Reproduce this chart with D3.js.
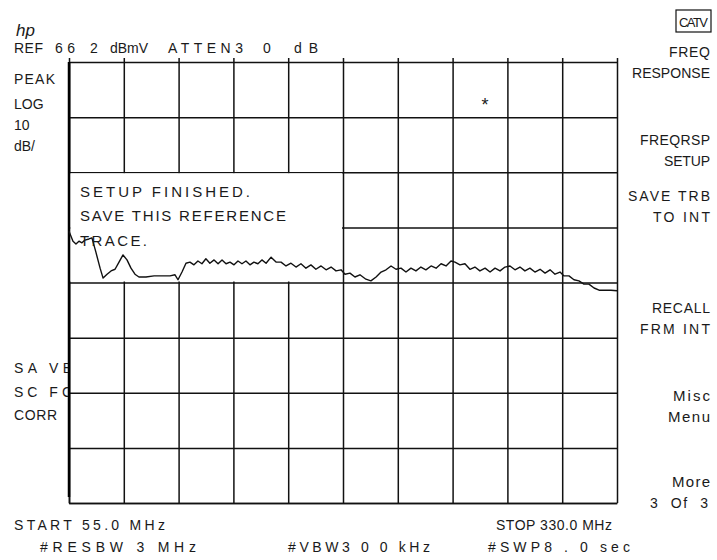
<!DOCTYPE html>
<html>
<head>
<meta charset="utf-8">
<script src="https://cdn.jsdelivr.net/npm/d3@7"></script>
<style>
  body { margin: 0; background: #fff; }
  text { font-family: "Liberation Sans", Arial, sans-serif; fill: #1a1a1a; }
</style>
</head>
<body>
<div id="container"></div>
<script>
var width = 717;
var height = 560;
var plotLeft = 69, plotRight = 617, plotTop = 62, plotBottom = 503;

// instrument settings
var startFreq = 55.0;   // MHz
var stopFreq = 330.0;   // MHz
var refLevel = 66.2;    // dBmV
var dbPerDiv = 10;
var xDivs = 10, yDivs = 8;

// trace (MHz, dBmV)
var traceFreq = [55.0, 56.0, 57.0, 58.5, 60.0, 61.5, 63.0, 65.0, 66.5, 68.5,
    70.6, 72.1, 74.1, 76.1, 78.1, 80.1, 82.1, 84.1, 86.1, 88.1,
    90.1, 93.6, 97.7, 101.7, 105.7, 108.2, 109.7, 111.7, 113.7, 115.7,
    117.7, 119.7, 121.7, 123.7, 125.7, 127.8, 129.8, 131.8, 133.8, 135.8,
    137.8, 139.8, 141.8, 143.8, 145.8, 147.8, 149.8, 151.8, 153.9, 156.4,
    158.9, 161.4, 163.9, 166.4, 168.9, 171.4, 173.9, 176.4, 178.9, 181.5,
    184.0, 186.5, 189.0, 191.5, 193.5, 196.0, 198.5, 201.0, 204.0, 206.5,
    209.1, 211.6, 214.1, 216.6, 219.1, 221.6, 224.1, 226.6, 229.1, 231.6,
    234.1, 236.7, 239.2, 241.7, 244.2, 246.7, 248.7, 251.2, 253.7, 256.2,
    258.7, 261.2, 263.8, 266.3, 268.8, 271.3, 273.8, 276.3, 278.8, 281.3,
    283.8, 286.3, 288.8, 291.4, 293.9, 296.4, 298.9, 301.4, 303.4, 305.9,
    308.4, 310.9, 313.4, 315.9, 318.5, 321.0, 324.0, 327.0, 330.0];
var traceLevel = [35.5, 34.6, 33.7, 33.2, 33.7, 33.4, 33.9, 34.1, 34.3, 31.7,
    28.8, 27.0, 27.7, 28.3, 28.6, 29.9, 31.2, 30.3, 28.8, 27.7,
    27.2, 27.2, 27.4, 27.4, 27.4, 27.6, 26.7, 28.1, 29.7, 29.9,
    29.4, 30.1, 29.6, 30.5, 29.7, 30.3, 29.6, 30.3, 29.6, 29.9,
    29.4, 30.1, 29.6, 30.1, 29.4, 29.9, 29.6, 30.3, 29.7, 30.8,
    29.9, 29.9, 29.2, 29.7, 29.0, 29.6, 28.8, 29.4, 28.6, 29.2,
    28.5, 29.0, 28.3, 28.5, 27.7, 27.9, 27.2, 27.6, 26.8, 26.5,
    27.2, 28.1, 28.5, 29.2, 28.6, 28.8, 28.1, 28.8, 28.3, 29.0,
    28.5, 29.2, 28.8, 29.6, 29.2, 30.1, 29.9, 29.4, 29.6, 28.6,
    29.0, 28.3, 28.8, 28.1, 28.8, 28.3, 29.0, 29.2, 28.5, 29.0,
    28.3, 28.8, 28.1, 28.6, 27.9, 28.5, 27.7, 28.1, 27.4, 27.4,
    26.7, 26.5, 25.9, 25.9, 25.2, 24.8, 24.8, 24.8, 24.7];

var markerFreq = 263.8, markerLevel = 58.8;

var xScale = d3.scaleLinear()
    .domain([startFreq, stopFreq])
    .range([plotLeft, plotRight]);

var yScale = d3.scaleLinear()
    .domain([refLevel - dbPerDiv * yDivs, refLevel])
    .range([plotBottom, plotTop]);

var xGrid = d3.range(xDivs + 1).map(function (i) { return startFreq + i * (stopFreq - startFreq) / xDivs; });
var yGrid = d3.range(yDivs + 1).map(function (i) { return refLevel - i * dbPerDiv; });

var svg = d3.select("#container")
    .append("svg")
    .attr("width", width)
    .attr("height", height);

// graticule
var xAxis = d3.axisBottom(xScale).tickValues(xGrid).tickSize(-(plotBottom - plotTop) - 4).tickSizeOuter(0).tickFormat("");
svg.append("g")
    .attr("transform", "translate(0," + plotBottom + ")")
    .call(xAxis);
var yAxis = d3.axisLeft(yScale).tickValues(yGrid).tickSize(-(plotRight - plotLeft)).tickSizeOuter(0).tickFormat("");
svg.append("g")
    .attr("transform", "translate(" + plotLeft + ",0)")
    .call(yAxis);
svg.selectAll(".domain").attr("stroke", "#111").attr("stroke-width", 1.6);
svg.selectAll(".tick line").attr("stroke", "#111").attr("stroke-width", 1.5);

// thick left edge
svg.append("line")
    .attr("x1", plotLeft).attr("x2", plotLeft)
    .attr("y1", plotTop).attr("y2", plotBottom - 6)
    .attr("stroke", "#000").attr("stroke-width", 2.5);

// message box blanks part of the graticule
svg.append("rect")
    .attr("x", xScale(startFreq) + 1.5)
    .attr("y", yScale(refLevel - 2 * dbPerDiv) + 1)
    .attr("width", xScale(startFreq + 5 * 27.5) - xScale(startFreq) - 2.5)
    .attr("height", yScale(refLevel - 4 * dbPerDiv) - yScale(refLevel - 2 * dbPerDiv) - 2)
    .attr("fill", "#fff");

// trace
var line = d3.line()
    .x(function (d, i) { return xScale(traceFreq[i]); })
    .y(function (d) { return yScale(d); });
svg.append("path")
    .datum(traceLevel)
    .attr("d", line)
    .attr("fill", "none")
    .attr("stroke", "#111")
    .attr("stroke-width", 1.4)
    .attr("stroke-linejoin", "round");

// marker
svg.append("text")
    .attr("x", xScale(markerFreq))
    .attr("y", yScale(markerLevel) + 8)
    .attr("text-anchor", "middle")
    .attr("font-size", "18px")
    .text("*");

// screen annotations: text, x, baseline, width, size
var labels = [
    ["R E F", 14, 53, 29, 14], ["6 6", 55, 53, 20, 14], ["2", 90, 53, null, 14],
    ["dBmV", 110, 53, 38, 14], ["ATTEN3", 168, 53, 75, 14], ["0", 263, 53, null, 14],
    ["dB", 294, 53, 24, 14],
    ["PEAK", 14, 84, 41, 14], ["LOG", 14, 109, null, 14], ["10", 14, 130, null, 14], ["dB/", 14, 151, null, 14],
    ["SA VB", 14, 373, 58, 14], ["SC FC", 14, 397, 58, 14], ["CORR", 14, 420, 43, 14],
    ["FREQ", 669, 57, 41, 14], ["RESPONSE", 632, 78, 78, 14],
    ["FREQRSP", 640, 145, 70, 14], ["SETUP", 664, 166, 46, 14],
    ["SAVE TRB", 628, 201, 82, 14], ["TO INT", 653, 222, 57, 14],
    ["RECALL", 652, 313, 58, 14], ["FRM INT", 640, 334, 70, 14],
    ["Misc", 673, 401, 37, 15], ["Menu", 668, 422, 42, 15],
    ["More", 672, 487, 38, 15], ["3  Of  3", 650, 508, 58, 14],
    ["START 55.0 MHz", 14, 530, 151, 14], ["STOP 330.0 MHz", 496, 530, 116, 14],
    ["#RESBW 3 MHz", 40, 552, 156, 14], ["#VBW3 0 0 kHz", 288, 552, 142, 14],
    ["#SWP8 . 0 sec", 488, 552, 142, 14],
    ["SETUP FINISHED.", 80, 197, 170, 15], ["SAVE THIS REFERENCE", 80, 221, 206, 15],
    ["TRACE.", 80, 246, 67, 15]
];

svg.append("clipPath").attr("id", "leftclip")
    .append("rect").attr("x", 0).attr("y", 0).attr("width", plotLeft - 1).attr("height", height);

labels.forEach(function (l) {
    var t = svg.append("text")
        .attr("x", l[1])
        .attr("y", l[2])
        .attr("font-size", l[4] + "px")
        .style("white-space", "pre")
        .text(l[0]);
    if (l[3]) t.attr("textLength", l[3]).attr("lengthAdjust", "spacing");
    if (l[0] === "SA VB" || l[0] === "SC FC") t.attr("clip-path", "url(#leftclip)");
});

// CATV key box
svg.append("rect")
    .attr("x", 676).attr("y", 10).attr("width", 35).attr("height", 22)
    .attr("fill", "none").attr("stroke", "#111").attr("stroke-width", 1.2);
svg.append("text")
    .attr("x", 679).attr("y", 27).attr("font-size", "13px")
    .attr("textLength", 29).attr("lengthAdjust", "spacing")
    .text("CATV");

// hp logo
svg.append("text")
    .attr("x", 16).attr("y", 36)
    .attr("font-size", "17px")
    .attr("font-style", "italic")
    .attr("font-family", "DejaVu Serif, serif")
    .text("hp");
</script>
</body>
</html>
